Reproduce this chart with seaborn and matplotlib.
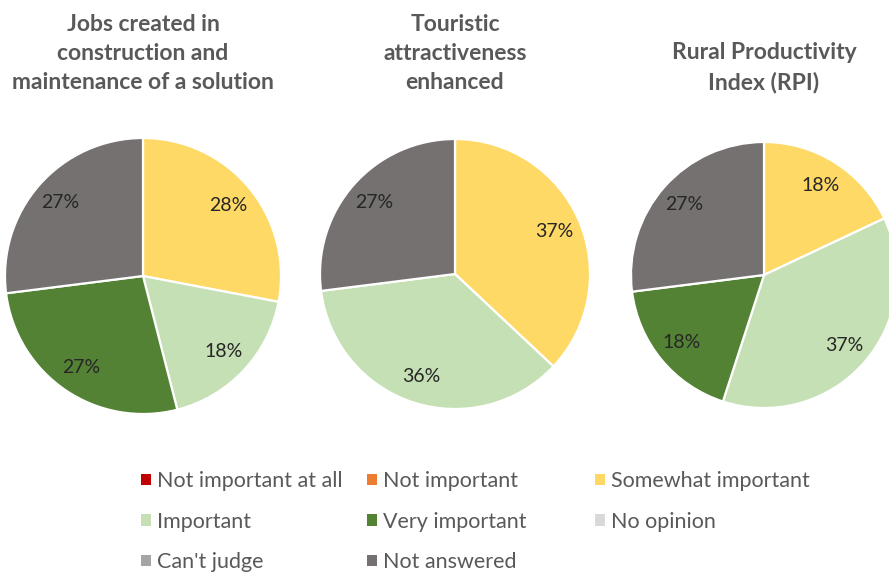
import matplotlib
matplotlib.use("Agg")
import matplotlib.pyplot as plt
from matplotlib.patches import Patch
import seaborn as sns

# Response categories and their colours
categories = ["Not important at all", "Not important", "Somewhat important",
              "Important", "Very important", "No opinion", "Can't judge",
              "Not answered"]
palette = ["#C00000", "#ED7D31", "#FFD966", "#C5E0B4", "#548235",
           "#D9D9D9", "#A5A5A5", "#767171"]

# Chart titles
titles = ["Jobs created in\nconstruction and\nmaintenance of a solution",
          "Touristic\nattractiveness\nenhanced",
          "Rural Productivity\nIndex (RPI)"]

# Share of answers (%) per category, same order as `categories`
jobs_created = [0, 0, 28, 18, 27, 0, 0, 27]
touristic = [0, 0, 37, 36, 0, 0, 0, 27]
rural_rpi = [0, 0, 18, 37, 18, 0, 0, 27]
series = [jobs_created, touristic, rural_rpi]

sns.set_theme(style="white")
plt.rcParams["font.family"] = ["Lato", "DejaVu Sans"]

W, H = 889, 574
fig = plt.figure(figsize=(W / 100, H / 100), dpi=100)
fig.patch.set_facecolor("white")
colors = sns.color_palette(palette)

# pie centre (px from left, px from top) and radius in px
layout = [(143, 276, 138), (455, 274, 135), (764, 275, 133)]
title_color = "#595959"

for values, title, (cx, cy, r) in zip(series, titles, layout):
    ax = fig.add_axes([(cx - r) / W, (H - cy - r) / H, 2 * r / W, 2 * r / H])
    shown = [(v, c) for v, c in zip(values, colors) if v > 0]
    vals = [v for v, _ in shown]
    cols = [c for _, c in shown]
    wedges, _, autotexts = ax.pie(
        vals, colors=cols, startangle=90, counterclock=False, radius=1,
        autopct="%.0f%%", pctdistance=0.8,
        wedgeprops=dict(edgecolor="white", linewidth=1.6),
        textprops=dict(fontsize=14, color="#262626"))
    for w in wedges:
        w.set_clip_on(False)
    ax.set_xlim(-1, 1)
    ax.set_ylim(-1, 1)
    ax.set_aspect("equal")
    ax.axis("off")
    fig.text(cx / W, 1 - 93 / H, title, ha="center", va="bottom",
             fontsize=16.5, fontweight="bold", color=title_color,
             linespacing=1.46)

# Legend laid out in three fixed-width columns, filled row by row
handles = [Patch(facecolor=c, edgecolor="none") for c in colors]
col_x = [141, 367, 595]
for j, x in enumerate(col_x):
    idx = list(range(j, len(categories), 3))
    leg = fig.legend([handles[i] for i in idx], [categories[i] for i in idx],
                     loc="upper left", bbox_to_anchor=(x / W, 1 - 471 / H),
                     frameon=False, borderpad=0, borderaxespad=0,
                     handlelength=0.45, handleheight=0.45, handletextpad=0.3,
                     labelspacing=0.96, fontsize=15.5)
    for t in leg.get_texts():
        t.set_color(title_color)

fig.savefig("out.png", dpi=100, facecolor="white")
